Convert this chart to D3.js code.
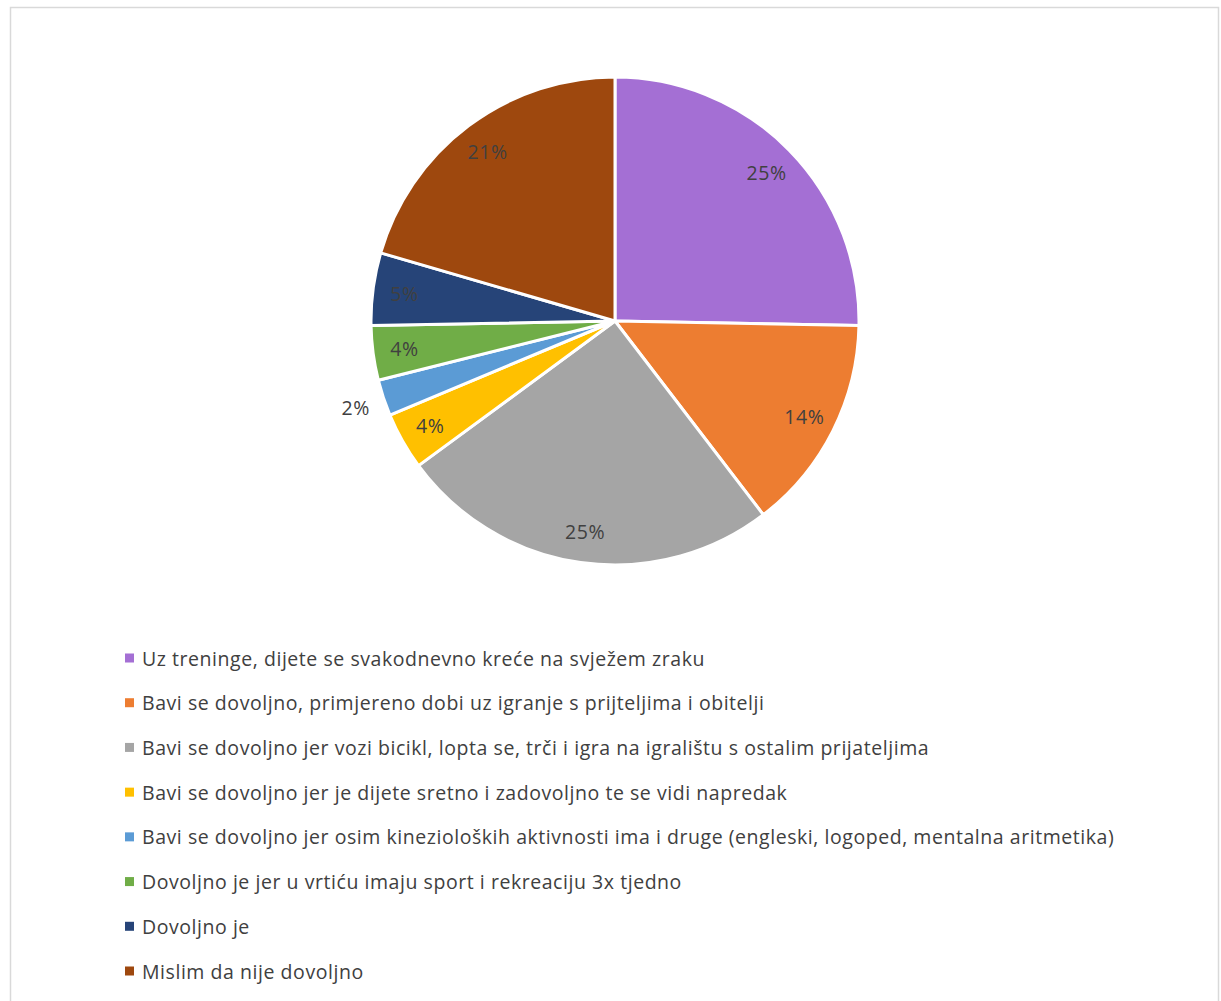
<!DOCTYPE html>
<html>
<head>
<meta charset="utf-8">
<script src="https://cdn.jsdelivr.net/npm/d3@7"></script>
<style>
  body { margin: 0; background: #fff; }
  svg { display: block; }
</style>
</head>
<body>
<svg id="chart" width="1221" height="1001"></svg>
<script>
// kategorije i udjeli (postotci očitani sa slike)
const categories = [
  "Uz treninge, dijete se svakodnevno kreće na svježem zraku",
  "Bavi se dovoljno, primjereno dobi uz igranje s prijteljima i obitelji",
  "Bavi se dovoljno jer vozi bicikl, lopta se, trči i igra na igralištu s ostalim prijateljima",
  "Bavi se dovoljno jer je dijete sretno i zadovoljno te se vidi napredak",
  "Bavi se dovoljno jer osim kinezioloških aktivnosti ima i druge (engleski, logoped, mentalna aritmetika)",
  "Dovoljno je jer u vrtiću imaju sport i rekreaciju 3x tjedno",
  "Dovoljno je",
  "Mislim da nije dovoljno"
];
const values = [25.3, 14.3, 25.3, 3.8, 2.4, 3.6, 4.8, 20.5];
const labels = ["25%", "14%", "25%", "4%", "2%", "4%", "5%", "21%"];
const colors = ["#a46fd4", "#ed7d31", "#a5a5a5", "#ffc000", "#5b9bd5", "#70ad47", "#264478", "#9e480e"];

const svg = d3.select("#chart");
const cx = 615, cy = 321, r = 244;
const font = "'Open Sans', sans-serif";

// okvir
svg.append("rect")
  .attr("x", 10.5).attr("y", 7.5)
  .attr("width", 1208).attr("height", 1010)
  .attr("fill", "none")
  .attr("stroke", "#d9d9d9")
  .attr("stroke-width", 1.5);

const pie = d3.pie().sort(null).value(d => d);
const arcs = pie(values);
const arc = d3.arc().innerRadius(0).outerRadius(r);

const g = svg.append("g").attr("transform", `translate(${cx},${cy})`);

g.selectAll("path")
  .data(arcs)
  .enter()
  .append("path")
  .attr("d", arc)
  .attr("fill", (d, i) => colors[i])
  .attr("stroke", "#fff")
  .attr("stroke-width", 3)
  .attr("stroke-linejoin", "round");

// oznake: 2% je izvan kriške
const labelArc = d3.arc().innerRadius(r * 0.87).outerRadius(r * 0.87);
const outerArc = d3.arc().innerRadius(r * 1.12).outerRadius(r * 1.12);

g.selectAll("text.lbl")
  .data(arcs)
  .enter()
  .append("text")
  .attr("class", "lbl")
  .attr("transform", (d, i) => {
    const p = i === 4 ? outerArc.centroid(d) : labelArc.centroid(d);
    return `translate(${p[0]},${p[1]})`;
  })
  .attr("text-anchor", "middle")
  .attr("dominant-baseline", "central")
  .attr("font-family", font)
  .attr("font-size", "19.5px")
  .attr("letter-spacing", "0.6px")
  .attr("fill", "#404040")
  .text((d, i) => labels[i]);

// legenda
const legendY = d3.scalePoint(d3.range(categories.length), [658, 971]);

const leg = svg.append("g")
  .selectAll("g")
  .data(categories)
  .enter()
  .append("g")
  .attr("transform", (d, i) => `translate(125,${legendY(i)})`);

leg.append("rect")
  .attr("x", 0).attr("y", -4.5)
  .attr("width", 9).attr("height", 9)
  .attr("fill", (d, i) => colors[i]);

leg.append("text")
  .attr("x", 17)
  .attr("dominant-baseline", "central")
  .attr("font-family", font)
  .attr("font-size", "19.5px")
  .attr("letter-spacing", "0.55px")
  .attr("fill", "#404040")
  .text(d => d);
</script>
</body>
</html>
